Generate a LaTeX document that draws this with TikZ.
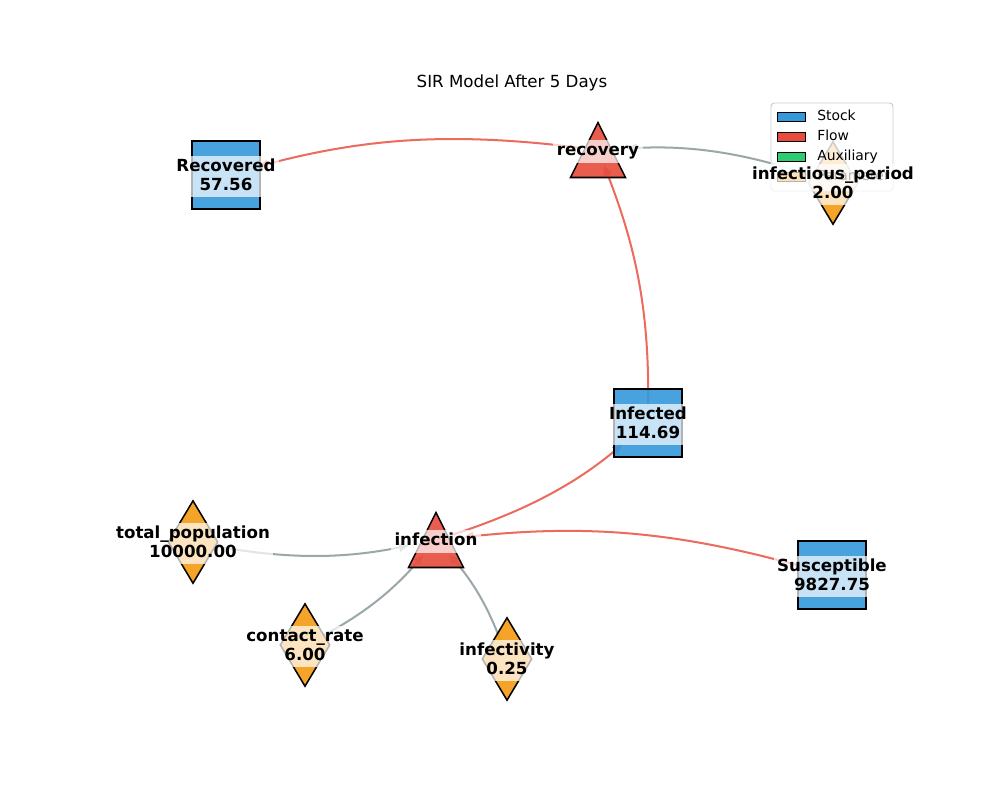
\documentclass[tikz,border=0pt]{standalone}
\usepackage{fontspec}
\setmainfont{DejaVu Sans}
\usetikzlibrary{shapes.geometric,arrows.meta}
\definecolor{stockc}{HTML}{3498DB}
\definecolor{flowc}{HTML}{E74C3C}
\definecolor{auxc}{HTML}{2ECC71}
\definecolor{paramc}{HTML}{F39C12}
\definecolor{redgec}{HTML}{EC6B5E}
\definecolor{gedgec}{HTML}{9AA8A9}
\definecolor{legframec}{HTML}{CCCCCC}
\newcommand\ltop{\rule{0pt}{9.1pt}}
\newcommand\lbot{\rule[-2.9pt]{0pt}{2.9pt}}
\newcommand\flowtri[1]{\draw[flowshape,shift={(#1)}] (0,-27.5) -- (27.5,27.5) -- (-27.5,27.5) -- cycle;}
\begin{document}
\begin{tikzpicture}[x=0.72pt,y=-0.72pt,
 stock/.style={rectangle,draw=black,line width=1.1pt,fill=stockc,fill opacity=0.9,minimum width=48.96pt,minimum height=48.96pt,inner sep=0pt},
 param/.style={diamond,draw=black,line width=1.1pt,fill=paramc,fill opacity=0.9,minimum width=36pt,minimum height=59.76pt,inner sep=0pt,aspect=0.6},
 flowshape/.style={draw=black,line width=1.1pt,fill=flowc,fill opacity=0.9,line join=miter},
 lbl/.style={fill=white,fill opacity=0.7,text opacity=1,align=center,inner xsep=2.5pt,inner ysep=2.4pt,yshift=-1.1pt,font=\bfseries\fontsize{12}{13.2}\selectfont},
 flowedge/.style={draw=redgec,line width=1.45pt,-{Triangle[length=7pt,width=6pt]},shorten <=12pt},
 auxedge/.style={draw=gedgec,line width=1.45pt,-{Triangle[length=7pt,width=6pt]},shorten <=14pt},
 tobox/.style={shorten >=24pt},
 legpatch/.style={draw=black,line width=0.6pt},
 legtext/.style={anchor=west,inner sep=0pt,text height=7.3pt,text depth=2.1pt,font=\fontsize{10}{12}\selectfont},
]
\useasboundingbox[fill=white] (0,0) rectangle (1000,800);

% centres
\coordinate (R) at (226,175);
\coordinate (rec) at (598,150);
\coordinate (ip) at (833,183);
\coordinate (I) at (648,423);
\coordinate (inf) at (436,540);
\coordinate (tp) at (193,542);
\coordinate (S) at (832,575);
\coordinate (cr) at (305,645);
\coordinate (iv) at (507,659);

\node[font=\fontsize{12}{14}\selectfont] (title) at (512,83) {SIR Model After 5 Days};

% edges
\draw[flowedge,shorten >=20pt] (S) to[bend right=11] (inf);
\draw[flowedge,tobox] (inf) to[bend right=11] (I);
\draw[flowedge,shorten >=12pt] (I) to[bend right=11] (rec);
\draw[flowedge,tobox] (rec) to[bend right=11] (R);
\draw[auxedge,shorten >=20pt] (tp) to[bend right=11] (inf);
\draw[auxedge,shorten >=14pt] (cr) to[bend right=11] (inf);
\draw[auxedge,shorten >=14pt] (iv) to[bend right=11] (inf);
\draw[auxedge,shorten >=21pt] (ip) to[bend right=11] (rec);

% nodes
\node[stock] (Rn) at (R) {};
\node[stock] (In) at (I) {};
\node[stock] (Sn) at (S) {};
\flowtri{rec}
\flowtri{inf}
\node[param] (ipn) at (ip) {};
\node[param] (tpn) at (tp) {};
\node[param] (crn) at (cr) {};
\node[param] (ivn) at (iv) {};

% legend
\draw[rounded corners=2.5pt,fill=white,fill opacity=0.8,draw=legframec,line width=0.7pt] (771,103) rectangle (893,191);
\draw[legpatch,fill=stockc] (777,112) rectangle (805,121);
\draw[legpatch,fill=flowc] (777,132) rectangle (805,141);
\draw[legpatch,fill=auxc] (777,152) rectangle (805,161);
\draw[legpatch,fill=paramc] (777,172) rectangle (805,181);
\node[legtext] (lStock) at (817,116.5) {Stock};
\node[legtext] (lFlow) at (817,136.5) {Flow};
\node[legtext] (lAux) at (817,156.5) {Auxiliary};
\node[legtext] (lPar) at (817,176.5) {Parameter};

% labels
\node[lbl] (Rl) at (R) {\ltop Recovered\\57.56\lbot};
\node[lbl] (recl) at (rec) {\ltop recovery\lbot};
\node[lbl] (ipl) at (ip) {\ltop infectious\_period\\2.00\lbot};
\node[lbl] (Il) at (I) {\ltop Infected\\114.69\lbot};
\node[lbl] (infl) at (inf) {\ltop infection\lbot};
\node[lbl] (tpl) at (tp) {\ltop total\_population\\10000.00\lbot};
\node[lbl] (Sl) at (S) {\ltop Susceptible\\9827.75\lbot};
\node[lbl] (crl) at (cr) {\ltop contact\_rate\\6.00\lbot};
\node[lbl] (ivl) at (iv) {\ltop infectivity\\0.25\lbot};
\end{tikzpicture}
\end{document}
